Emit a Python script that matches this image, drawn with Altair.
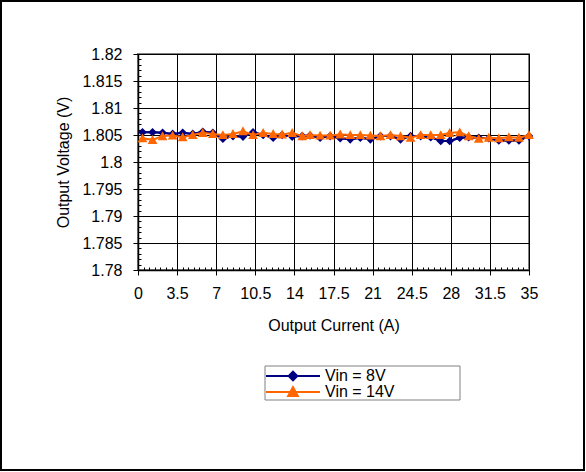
import altair as alt
import pandas as pd
import numpy as np

# Output current (A) sample points
current = [0.4, 1.3, 2.2, 3.1, 4.0, 4.9, 5.8, 6.7, 7.6, 8.5,
           9.4, 10.3, 11.2, 12.1, 12.9, 13.8, 14.7, 15.4, 16.3, 17.2,
           18.1, 19.0, 19.9, 20.8, 21.7, 22.6, 23.5, 24.4, 25.3, 26.2,
           27.1, 27.9, 28.8, 29.6, 30.5, 31.4, 32.3, 33.2, 34.1, 35.0]

# Output voltage (V) for each input voltage
vin_8 = [1.8055, 1.8055, 1.8054, 1.8052, 1.8054, 1.8052, 1.8056, 1.8054, 1.8043, 1.8048,
         1.8047, 1.8055, 1.8050, 1.8045, 1.8050, 1.8047, 1.8048, 1.8049, 1.8045, 1.8048,
         1.8044, 1.8042, 1.8045, 1.8042, 1.8048, 1.8048, 1.8042, 1.8048, 1.8048, 1.8046,
         1.8039, 1.8039, 1.8045, 1.8046, 1.8045, 1.8044, 1.8040, 1.8040, 1.8040, 1.8048]
vin_14 = [1.8044, 1.8041, 1.8048, 1.8049, 1.8046, 1.8050, 1.8054, 1.8052, 1.8050, 1.8052,
          1.8057, 1.8050, 1.8054, 1.8052, 1.8051, 1.8054, 1.8048, 1.8050, 1.8049, 1.8049,
          1.8051, 1.8050, 1.8050, 1.8049, 1.8048, 1.8050, 1.8048, 1.8045, 1.8050, 1.8050,
          1.8050, 1.8054, 1.8055, 1.8048, 1.8043, 1.8045, 1.8044, 1.8046, 1.8045, 1.8050]

series_names = ["Vin = 8V", "Vin = 14V"]
series_colors = ["#000080", "#FF6600"]

x_ticks = [0, 3.5, 7, 10.5, 14, 17.5, 21, 24.5, 28, 31.5, 35]
y_ticks = [1.78, 1.785, 1.79, 1.795, 1.8, 1.805, 1.81, 1.815, 1.82]
x_minor = [v for v in np.round(np.arange(0, 35.01, 0.5), 2) if v not in x_ticks]
y_minor = [v for v in np.round(np.arange(1.78, 1.8201, 0.001), 3) if v not in y_ticks]

FONT = "Liberation Sans"
W, H = 391, 216
LEFT, TOP = 138, 54
LABEL_EXPR = "format(datum.value, '~g')"

# Marker paths: a horizontal stroke (only visible in the legend, where symbols are stroked)
# plus a filled diamond / triangle.
DIAMOND = "M-1,0L1,0M0,-0.16L0.16,0L0,0.16L-0.16,0Z"
TRIANGLE = "M-1,0L1,0M0,-0.18L0.18,0.15L-0.18,0.15Z"
SYM_SIZE = 54 * 54

df8 = pd.DataFrame({"current": current, "voltage": vin_8, "series": series_names[0]})
df14 = pd.DataFrame({"current": current, "voltage": vin_14, "series": series_names[1]})

x_scale = alt.Scale(domain=[0, 35], nice=False, zero=False)
y_scale = alt.Scale(domain=[1.78, 1.82], nice=False, zero=False)

x_main = alt.Axis(values=x_ticks, labelExpr=LABEL_EXPR, title="Output Current (A)", orient="bottom",
                  grid=True, gridColor="#000000", gridWidth=1, gridOpacity=1,
                  domainColor="#000000", domainWidth=1.5, tickColor="#000000", tickSize=5,
                  labelPadding=10, labelFlush=False, labelOverlap=False,
                  titlePadding=16)
y_main = alt.Axis(values=y_ticks, labelExpr=LABEL_EXPR, title="Output Voltage (V)", orient="left",
                  grid=True, gridColor="#000000", gridWidth=1, gridOpacity=1,
                  domainColor="#000000", domainWidth=1.5, tickColor="#000000", tickSize=5,
                  labelPadding=11, labelOverlap=False, titlePadding=10)
x_minor_axis = alt.Axis(values=x_minor, orient="bottom", labels=False, domain=False, grid=False,
                        tickSize=3, offset=-3, tickColor="#000000", title=None)
y_minor_axis = alt.Axis(values=y_minor, orient="left", labels=False, domain=False, grid=False,
                        tickSize=3, offset=-3, tickColor="#000000", title=None)


def line_layer(df, color, xa, ya):
    return alt.Chart(df).mark_line(color=color, strokeWidth=2).encode(
        x=alt.X("current:Q", scale=x_scale, axis=xa),
        y=alt.Y("voltage:Q", scale=y_scale, axis=ya),
    )


def point_layer(df, name, color, shape, leg_y):
    return alt.Chart(df).mark_point(filled=True, shape=shape, size=SYM_SIZE, opacity=1).encode(
        x=alt.X("current:Q", scale=x_scale, axis=None),
        y=alt.Y("voltage:Q", scale=y_scale, axis=None),
        color=alt.Color("series:N", scale=alt.Scale(domain=[name], range=[color]),
                        legend=alt.Legend(title=None, orient="none", legendX=127, legendY=leg_y,
                                          symbolSize=SYM_SIZE, symbolType=shape,
                                          symbolStrokeColor=color, symbolFillColor=color,
                                          symbolStrokeWidth=2, labelFont=FONT, labelFontSize=16,
                                          labelColor="#000000", labelOffset=4, padding=0,
                                          rowPadding=0)),
    )


frame_df = pd.DataFrame({"k": [0]})
# Box drawn around the legend entries
legend_box = alt.Chart(frame_df).mark_rect(filled=False, color="#808080", strokeWidth=1).encode(
    x=alt.value(127), x2=alt.value(322), y=alt.value(312), y2=alt.value(346))
# Outer border of the figure
outer_box = alt.Chart(frame_df).mark_rect(filled=False, color="#000000", strokeWidth=2).encode(
    x=alt.value(1 - LEFT), x2=alt.value(584 - LEFT), y=alt.value(1 - TOP), y2=alt.value(470 - TOP))

chart = alt.layer(
    line_layer(df8, series_colors[0], x_main, y_main),
    line_layer(df8, series_colors[0], x_minor_axis, y_minor_axis),
    point_layer(df8, series_names[0], series_colors[0], DIAMOND, 294),
    line_layer(df14, series_colors[1], None, None),
    point_layer(df14, series_names[1], series_colors[1], TRIANGLE, 310),
    legend_box,
    outer_box,
).resolve_axis(x="independent", y="independent").resolve_scale(
    color="independent").resolve_legend(color="independent").properties(
    width=W, height=H,
    autosize=alt.AutoSizeParams(type="none"),
    padding={"left": LEFT, "top": TOP, "right": 586 - LEFT - W, "bottom": 472 - TOP - H},
    background="white",
).configure_view(stroke="#808080", strokeWidth=2).configure_axis(
    labelFont=FONT, labelFontSize=16, labelColor="#000000",
    titleFont=FONT, titleFontSize=16, titleColor="#000000", titleFontWeight="normal",
)

chart.save("out.html", embed_options={"renderer": "svg", "actions": False})
